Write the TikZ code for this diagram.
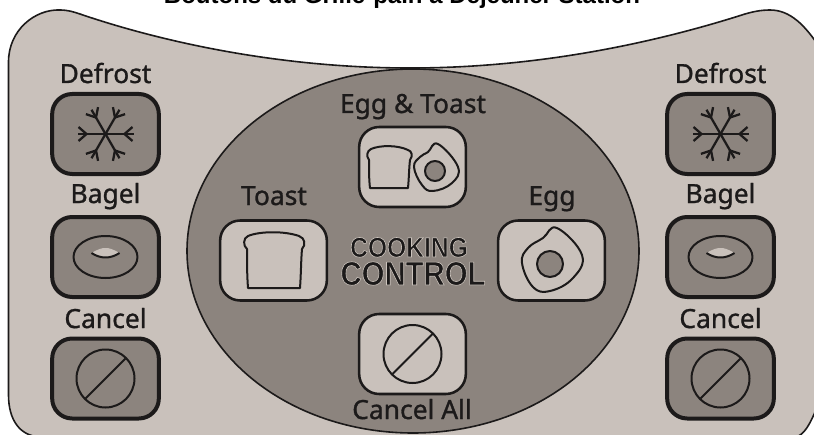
\documentclass[tikz,border=0pt]{standalone}
\usepackage{fontspec}
\setmainfont{Noto Sans}
\newfontfamily\titlefont{Liberation Sans}
\newfontfamily\labelfont[FakeBold=1.1]{Noto Sans}
\newfontfamily\logofont[FakeStretch=.88]{Liberation Sans}
\usepackage{xcolor}
\definecolor{panelgray}{HTML}{C9C1BB}
\definecolor{darkgray}{HTML}{8C847E}
\definecolor{inkgray}{HTML}{1C1A1A}
\newcommand{\outlined}[1]{\special{pdf:code 2 Tr 0.45 w 0.80 0.77 0.74 RG}#1\special{pdf:code 0 Tr}}
\usetikzlibrary{positioning,shapes.geometric}

\begin{document}
\begin{tikzpicture}[
 x=.75pt,y=-.75pt,
 outer/.style={draw=inkgray,line width=3pt,fill=darkgray,rounded corners=15pt,
   minimum width=80pt,minimum height=60pt,inner sep=0pt},
 inner/.style={draw=inkgray,line width=1.9pt,fill=panelgray,rounded corners=15pt,
   minimum width=80pt,minimum height=60pt,inner sep=0pt},
 caption/.style={font=\labelfont\fontsize{19.8}{20}\selectfont,text=inkgray,
   inner sep=0pt,anchor=base},
 logo/.style={text=inkgray,inner sep=0pt,anchor=base,text depth=0pt},
 ink/.style={draw=inkgray,line width=1.5pt,line join=round},
 cancelicon/.pic={
   \draw[ink] (0,0) circle (29);
   \draw[ink] (-20,20) -- (20,-20);
 },
 bagelicon/.pic={
   \draw[ink] (0,0) ellipse (32 and 21);
   \fill[panelgray] (-14,-4) .. controls (-7,-8) and (-4,-9) .. (0,-9)
     .. controls (4,-9) and (7,-8) .. (14,-4)
     .. controls (5,2) and (-5,2) .. (-14,-4) -- cycle;
   \draw[ink] (-14,-4) .. controls (-5,2) and (5,2) .. (14,-4);
 },
 snowicon/.pic={
   \foreach \a in {0,60,...,300}{
     \begin{scope}[rotate=\a]
       \draw[draw=inkgray,line width=1.7pt] (0,0) -- (28,0);
       \draw[draw=inkgray,line width=1.7pt] (19,0) -- (27,-7);
       \draw[draw=inkgray,line width=1.7pt] (19,0) -- (27,7);
     \end{scope}
   }
 }
]
\useasboundingbox (0,0) rectangle (814,435);
\clip (0,0) rectangle (814,435);

\node[font=\titlefont\bfseries\fontsize{18}{19}\selectfont,inner sep=0pt,anchor=base] (title)
 at (402,4) {Boutons du Grille-pain à Déjeuner Station};

\draw[draw=inkgray,line width=1.2pt,fill=panelgray] (8.5,62)
 .. controls (8.5,30) and (35,9) .. (60,10)
 .. controls (68,10) and (74,12) .. (80,14)
 .. controls (150,38) and (270,68) .. (410,68)
 .. controls (550,68) and (670,38) .. (745,14)
 .. controls (752,12) and (760,10) .. (770,10)
 .. controls (790,10) and (805,25) .. (820,48)
 -- (820,400) .. controls (812,420) and (805,436) .. (795,437)
 -- (40,437) .. controls (20,436) and (8.5,420) .. (8.5,395) -- cycle;

\node[draw=inkgray,line width=1.2pt,fill=darkgray,ellipse,minimum width=339pt,
 minimum height=273pt,inner sep=0pt] (oval) at (413,251) {};

\foreach \side/\cx in {l/105.5,r/720.5}{
  \node[outer] (defrost\side) at (\cx,134) {};
  \node[outer] (bagel\side) at (\cx,257) {};
  \node[outer] (cancel\side) at (\cx,378.5) {};
  \node[caption] (defrostlabel\side) at (\cx,83) {Defrost};
  \node[caption] (bagellabel\side) at (\cx,203) {Bagel};
  \node[caption] (cancellabel\side) at (\cx,328) {Cancel};
  \pic at (defrost\side) {snowicon};
  \pic at (bagel\side) {bagelicon};
  \pic at (cancel\side) {cancelicon};
}

\node[inner] (eggtoast) at (412.5,167) {};
\node[inner] (toast) at (273.5,260.5) {};
\node[inner] (egg) at (551.5,260.5) {};
\node[inner] (cancelall) at (412.5,354) {};

\node[caption] (eggtoastlabel) at (413,113) {Egg \& Toast};
\node[caption] (toastlabel) at (274,205) {Toast};
\node[caption] (egglabel) at (552,205) {Egg};
\node[caption] (cancelalllabel) at (412,419) {Cancel All};

\node[logo,font=\logofont\bfseries\fontsize{21}{21}\selectfont] (cooking) at (409,257) {\outlined{COOKING}};
\node[logo,font=\logofont\bfseries\fontsize{25}{25}\selectfont] (control) at (413,285) {\outlined{CONTROL}};

\pic at (cancelall) {cancelicon};

\draw[ink] (248,288) -- (300,288) .. controls (301,275) and (301,260) .. (302,249)
 .. controls (306,245) and (305,238) .. (299,236)
 .. controls (285,231) and (260,231) .. (248,236)
 .. controls (243,238) and (243,246) .. (247,249)
 .. controls (247,262) and (247,275) .. (248,288) -- cycle;
\draw[ink] (370,188) -- (408,188) .. controls (409,178) and (409,168) .. (410,160)
 .. controls (413,156) and (412,151) .. (408,150)
 .. controls (398,145) and (380,145) .. (371,149)
 .. controls (367,151) and (366,156) .. (369,160)
 .. controls (369,170) and (369,180) .. (370,188) -- cycle;

\draw[ink] plot[smooth cycle,tension=.7] coordinates {(557,228) (582,255) (573,278) (550,291) (533,287) (522,263) (528,248) (543,238)};
\draw[ink,fill=darkgray] (550,264) circle (13);
\draw[ink] plot[smooth cycle,tension=.7] coordinates {(438,144) (458,167) (452,183) (433,191) (422,185) (414,167) (420,157) (428,152)};
\draw[ink,fill=darkgray] (435,171) circle (10);
\end{tikzpicture}
\end{document}
